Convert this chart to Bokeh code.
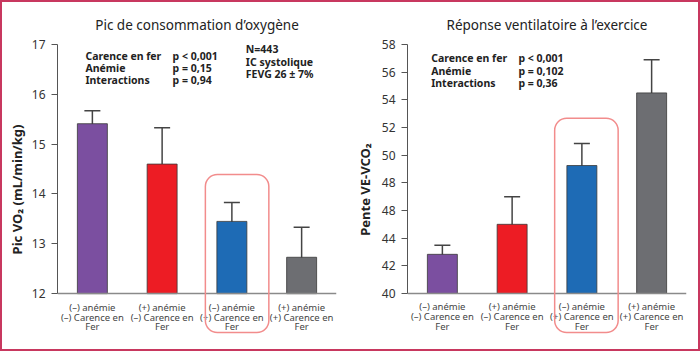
from bokeh.plotting import figure
from bokeh.models import (ColumnDataSource, Whisker, TeeHead, BoxAnnotation, Label,
                          FixedTicker, FactorRange, Range1d)
from bokeh.layouts import row
from bokeh.embed import file_html
from bokeh.resources import INLINE

FONT = "Noto Sans"

categories = ["(\u2013) anémie\n(\u2013) Carence en\nFer",
              "(+) anémie\n(\u2013) Carence en\nFer",
              "(\u2013) anémie\n(+) Carence en\nFer",
              "(+) anémie\n(+) Carence en\nFer"]
colors = ["#7B4FA0", "#ED1C24", "#1E6BB5", "#6D6E72"]

vo2 = [15.41, 14.60, 13.45, 12.73]
vo2_low = [15.11, 13.84, 13.10, 12.14]
vo2_high = [15.67, 15.33, 13.83, 13.33]

vevco2 = [42.83, 45.00, 49.25, 54.50]
vevco2_low = [42.09, 42.83, 47.75, 52.04]
vevco2_high = [43.48, 47.00, 50.84, 56.90]

left_ticks = [12, 13, 14, 15, 16, 17]
left_tick_labels = ["12", "13", "14", "15", "16", "17"]
right_ticks = [40, 42, 44, 46, 48, 50, 52, 54, 56, 58]
right_tick_labels = ["40", "42", "44", "48", "48", "50", "52", "54", "56", "58"]

left_stats = [("Carence en fer", "p < 0,001"), ("Anémie", "p = 0,15"), ("Interactions", "p = 0,94")]
left_info = ["N=443", "IC systolique", "FEVG 26 \u00b1 7%"]
right_stats = [("Carence en fer", "p < 0,001"), ("Anémie", "p = 0,102"), ("Interactions", "p = 0,36")]


def make_fig(title, ylabel, vals, lows, highs, base, top, ylow, yhigh, ticks, tick_labels,
             mbl, mbr, lab_standoff):
    p = figure(width=348, height=347, x_range=FactorRange(*categories, range_padding=0),
               y_range=Range1d(ylow, yhigh), output_backend="svg", toolbar_location=None,
               min_border_left=mbl, min_border_right=mbr, min_border_top=36,
               min_border_bottom=9, background_fill_color="white",
               border_fill_color="white", outline_line_color=None)
    p.title.text = title
    p.title.align = "center"
    p.title.text_font = FONT
    p.title.text_font_size = "13.5px"
    p.title.text_font_style = "normal"
    p.title.text_color = "#222222"
    src = ColumnDataSource(dict(cat=categories, val=vals, low=lows, high=highs, color=colors))
    p.vbar(x="cat", top="val", bottom=base, width=0.43,
           fill_color="color", line_color="#3a3a3a", line_width=1, line_alpha=0.8, source=src)
    w = Whisker(base="cat", upper="high", lower="low", source=src,
                line_color="#444444", line_width=1.5,
                upper_head=TeeHead(size=16, line_color="#444444", line_width=1.5),
                lower_head=TeeHead(size=16, line_color="#444444", line_width=1.5))
    p.add_layout(w)
    p.xgrid.visible = False
    p.ygrid.visible = False
    p.yaxis.ticker = FixedTicker(ticks=ticks)
    p.yaxis.bounds = (base, top)
    p.yaxis.major_label_overrides = {t: l for t, l in zip(ticks, tick_labels)}
    p.yaxis.axis_label = ylabel
    p.yaxis.axis_label_text_font = FONT
    p.yaxis.axis_label_text_font_style = "bold"
    p.yaxis.axis_label_text_font_size = "13px"
    p.yaxis.axis_label_text_color = "#222222"
    p.yaxis.axis_label_standoff = lab_standoff
    p.yaxis.major_label_text_font = FONT
    p.yaxis.major_label_text_font_size = "12px"
    p.yaxis.major_label_text_color = "#333333"
    p.yaxis.axis_line_color = "#555555"
    p.yaxis.major_tick_line_color = "#555555"
    p.yaxis.major_tick_out = 6
    p.yaxis.major_tick_in = 0
    p.yaxis.minor_tick_line_color = None
    p.yaxis.major_label_standoff = 6
    p.xaxis.fixed_location = base
    p.xaxis.axis_line_color = "#8a8a8a"
    p.xaxis.axis_line_width = 1.5
    p.xaxis.major_tick_line_color = None
    p.xaxis.minor_tick_line_color = None
    p.xaxis.major_label_text_font = FONT
    p.xaxis.major_label_text_font_size = "9.5px"
    p.xaxis.major_label_text_color = "#444444"
    p.xaxis.major_label_text_line_height = 0.76
    p.xaxis.major_label_standoff = 1
    p.xaxis.major_label_orientation = "horizontal"
    return p


p1 = make_fig("Pic de consommation d\u2019oxygène", "Pic VO\u2082 (mL/min/kg)",
              vo2, vo2_low, vo2_high, 12, 17, 11.06, 17.12, left_ticks, left_tick_labels,
              55, 14, 3)
p2 = make_fig("Réponse ventilatoire à l\u2019exercice", "Pente VE-VCO\u2082",
              vevco2, vevco2_low, vevco2_high, 40, 58, 36.6, 58.434, right_ticks,
              right_tick_labels, 57, 12, 5)

# highlight boxes around 3rd bar
p1.add_layout(BoxAnnotation(left=2.12, right=3.03, bottom=11.22, top=14.39,
                            fill_color=None, line_color="#F28C8C", line_alpha=1.0,
                            line_width=1.5, border_radius=12))
p2.add_layout(BoxAnnotation(left=2.11, right=3.02, bottom=37.18, top=52.67,
                            fill_color=None, line_color="#F28C8C", line_alpha=1.0,
                            line_width=1.5, border_radius=12))


def add_text(p, x, y, txt):
    p.add_layout(Label(x=x, y=y, text=txt, text_font=FONT, text_font_size="10.5px",
                       text_font_style="bold", text_color="#222222",
                       text_baseline="middle"))


for i, (a, b) in enumerate(left_stats):
    add_text(p1, 0.40, 16.76 - i * 0.24, a)
    add_text(p1, 1.65, 16.76 - i * 0.24, b)
for i, t in enumerate(left_info):
    add_text(p1, 2.70, 16.90 - i * 0.25, t)
for i, (a, b) in enumerate(right_stats):
    add_text(p2, 0.34, 56.99 - i * 0.87, a)
    add_text(p2, 1.59, 56.99 - i * 0.87, b)

layout = row(p1, p2, styles={"border": "2px solid #C8385F"})
open("out.html", "w").write(file_html(layout, INLINE))
